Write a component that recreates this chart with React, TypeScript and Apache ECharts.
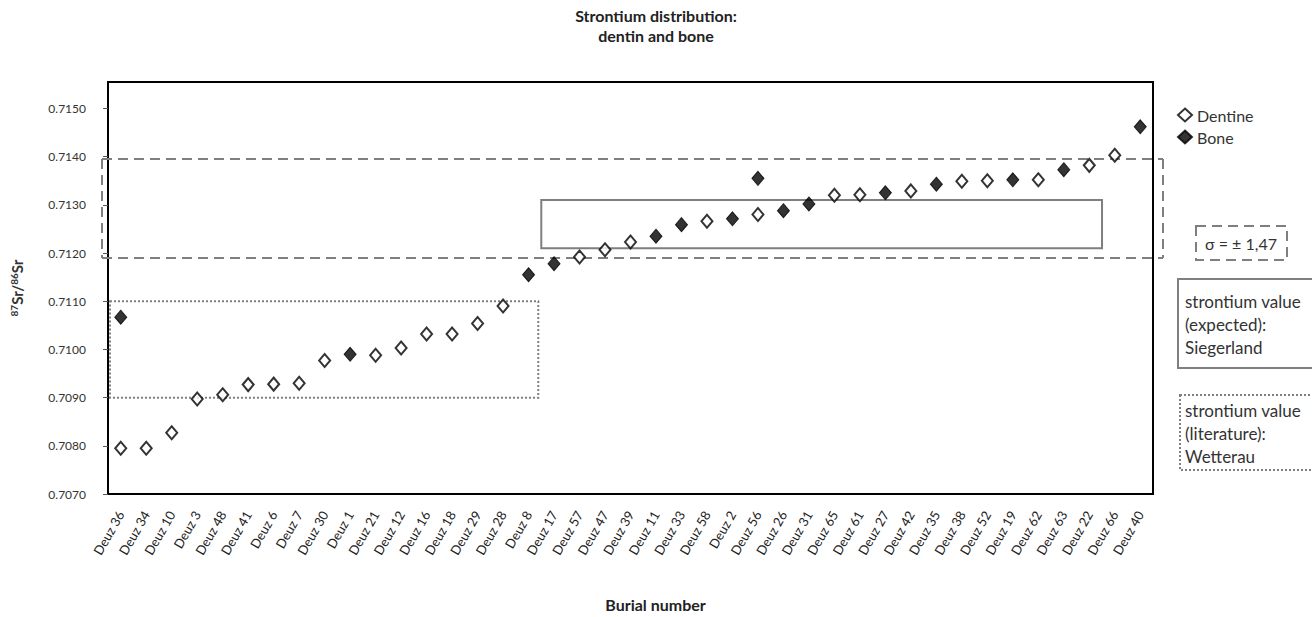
import React, { useEffect, useRef } from "react";
import * as echarts from "echarts";

const categories = [
  "Deuz 36", "Deuz 34", "Deuz 10", "Deuz 3", "Deuz 48", "Deuz 41", "Deuz 6", "Deuz 7", "Deuz 30", "Deuz 1",
  "Deuz 21", "Deuz 12", "Deuz 16", "Deuz 18", "Deuz 29", "Deuz 28", "Deuz 8", "Deuz 17", "Deuz 57", "Deuz 47",
  "Deuz 39", "Deuz 11", "Deuz 33", "Deuz 58", "Deuz 2", "Deuz 56", "Deuz 26", "Deuz 31", "Deuz 65", "Deuz 61",
  "Deuz 27", "Deuz 42", "Deuz 35", "Deuz 38", "Deuz 52", "Deuz 19", "Deuz 62", "Deuz 63", "Deuz 22", "Deuz 66",
  "Deuz 40",
];

const dentine: (number | null)[] = [
  0.70795, 0.70795, 0.70827, 0.70897, 0.70906, 0.70927, 0.70928, 0.7093, 0.70977, null,
  0.70988, 0.71003, 0.71032, 0.71032, 0.71054, 0.7109, null, null, 0.71192, 0.71207,
  0.71223, null, null, 0.71266, null, 0.7128, null, null, 0.7132, 0.71321,
  null, 0.71329, null, 0.71349, 0.7135, null, 0.71352, null, 0.71382, 0.71403,
  null,
];

const bone: (number | null)[] = [
  0.71067, null, null, null, null, null, null, null, null, 0.7099,
  null, null, null, null, null, null, 0.71155, 0.71178, null, null,
  null, 0.71235, 0.71259, null, 0.71271, 0.71355, 0.71288, 0.71302, null, null,
  0.71325, null, 0.71343, null, null, 0.71352, null, 0.71373, null, null,
  0.71462,
];

const yTicks = [0.707, 0.708, 0.709, 0.71, 0.711, 0.712, 0.713, 0.714, 0.715];
const yMin = 0.707;
const yMax = 0.71555;

// reference ranges
const sigmaRange = [0.7119, 0.71395];
const siegerlandRange = [0.7121, 0.7131];
const siegerlandCats = [17, 38]; // from Deuz 17 to Deuz 22
const wetterauRange = [0.709, 0.711];
const wetterauCats = [0, 16]; // from Deuz 36 to Deuz 8

const FONT = "Lato, 'Open Sans', sans-serif";

export default function App() {
  const ref = useRef<HTMLDivElement>(null);

  useEffect(() => {
    document.body.style.margin = "0";
    const chart = echarts.init(ref.current!, null, { renderer: "svg" });
    const option: any = {
      animation: false,
      backgroundColor: "#ffffff",
      textStyle: { fontFamily: FONT },
      title: {
        text: "Strontium distribution:\ndentin and bone",
        left: "center",
        top: 0,
        textStyle: { fontSize: 16, fontWeight: "bold", color: "#222", lineHeight: 20, fontFamily: FONT },
      },
      legend: {
        orient: "vertical",
        left: 1172,
        top: 102,
        itemGap: 6,
        itemWidth: 14,
        itemHeight: 13,
        textStyle: { fontSize: 16, color: "#333", fontFamily: FONT },
        data: ["Dentine", "Bone"],
      },
      grid: {
        left: 108,
        right: 159,
        top: 82,
        bottom: 113,
        show: true,
        borderColor: "#000",
        borderWidth: 2,
        backgroundColor: "transparent",
      },
      xAxis: {
        type: "category",
        data: categories,
        boundaryGap: true,
        name: "Burial number",
        nameLocation: "middle",
        nameGap: 102,
        nameTextStyle: { fontSize: 16, fontWeight: "bold", color: "#222", padding: [0, 0, 0, 50] },
        axisLine: { lineStyle: { color: "#000", width: 2 } },
        axisTick: { show: false },
        axisLabel: { rotate: 60, fontSize: 13, color: "#222", margin: 18, interval: 0 },
        splitLine: { show: false },
      },
      yAxis: {
        type: "value",
        min: yMin,
        max: yMax,
        interval: 0.001,
        name: "{sup|87}{b|Sr/}{sup|86}{b|Sr}",
        nameLocation: "middle",
        nameRotate: 90,
        nameGap: 84,
        nameTextStyle: {
          rich: {
            b: { fontSize: 15, fontWeight: "bold", color: "#333", fontFamily: FONT },
            sup: { fontSize: 10, fontWeight: "bold", color: "#333", verticalAlign: "top", fontFamily: FONT },
          },
        },
        axisLine: { show: true, lineStyle: { color: "#000", width: 2 } },
        axisTick: { show: true, inside: false, length: 5, lineStyle: { color: "#555" }, customValues: yTicks },
        axisLabel: {
          fontSize: 12,
          color: "#333",
          margin: 22,
          customValues: yTicks,
          formatter: (v: number) => v.toFixed(4),
        },
        splitLine: { show: false },
      },
      series: [
        {
          name: "Dentine",
          type: "scatter",
          data: dentine,
          symbol: "diamond",
          symbolSize: [11, 13],
          itemStyle: { color: "#ffffff", borderColor: "#000", borderWidth: 2 },
          z: 5,
        },
        {
          name: "Bone",
          type: "scatter",
          data: bone,
          symbol: "diamond",
          symbolSize: [12, 14],
          itemStyle: { color: "#000", borderColor: "#000", borderWidth: 1 },
          z: 5,
        },
      ],
    };
    chart.setOption(option);

    const rect = (chart as any).getModel().getComponent("grid", 0).coordinateSystem.getRect();
    const band = rect.width / categories.length;
    const py = (v: number) => chart.convertToPixel({ yAxisIndex: 0 }, v) as number;
    const gray = "#7f7f7f";

    const sTop = py(sigmaRange[1]);
    const sBot = py(sigmaRange[0]);
    const sLeft = rect.x - 6;
    const sRight = rect.x + rect.width + 10;

    const siegTop = py(siegerlandRange[1]);
    const siegBot = py(siegerlandRange[0]);
    const siegL = rect.x + band * siegerlandCats[0];
    const siegR = rect.x + band * (siegerlandCats[1] + 1);

    const wetTop = py(wetterauRange[1]);
    const wetBot = py(wetterauRange[0]);
    const wetL = rect.x + 2;
    const wetR = rect.x + band * (wetterauCats[1] + 1) - 3;

    const dashed = { stroke: gray, lineWidth: 2, lineDash: [10, 6], fill: null };
    const txt = (x: number, y: number, t: string) => ({
      type: "text",
      x,
      y,
      style: { text: t, fontSize: 17, fill: "#333", fontFamily: FONT, verticalAlign: "middle" },
      z: 10,
    });

    chart.setOption({
      graphic: [
        // sigma band (dashed rectangle)
        { type: "line", shape: { x1: sLeft, y1: sTop, x2: sRight, y2: sTop }, style: dashed, z: 3 },
        { type: "line", shape: { x1: sLeft, y1: sBot, x2: sRight, y2: sBot }, style: dashed, z: 3 },
        { type: "line", shape: { x1: sLeft, y1: sTop, x2: sLeft, y2: sBot }, style: dashed, z: 3 },
        { type: "line", shape: { x1: sRight, y1: sTop, x2: sRight, y2: sBot }, style: dashed, z: 3 },
        // Siegerland expected box
        {
          type: "rect",
          shape: { x: siegL, y: siegTop, width: siegR - siegL, height: siegBot - siegTop },
          style: { fill: null, stroke: gray, lineWidth: 2 },
          z: 3,
        },
        // Wetterau literature box
        {
          type: "rect",
          shape: { x: wetL, y: wetTop, width: wetR - wetL, height: wetBot - wetTop },
          style: { fill: null, stroke: gray, lineWidth: 2, lineDash: [2, 2] },
          z: 3,
        },
        // sigma legend box
        {
          type: "rect",
          shape: { x: 1196, y: 226, width: 91, height: 34 },
          style: { fill: null, stroke: gray, lineWidth: 2, lineDash: [10, 6] },
        },
        {
          type: "text",
          x: 1241,
          y: 243,
          style: { text: "σ = ± 1,47", fontSize: 16, fill: "#333", fontFamily: FONT, align: "center", verticalAlign: "middle" },
        },
        // Siegerland legend box
        {
          type: "rect",
          shape: { x: 1178, y: 279, width: 140, height: 89 },
          style: { fill: null, stroke: gray, lineWidth: 2 },
        },
        txt(1185, 301, "strontium value"),
        txt(1185, 324, "(expected):"),
        txt(1185, 347, "Siegerland"),
        // Wetterau legend box
        {
          type: "rect",
          shape: { x: 1180, y: 395, width: 140, height: 75 },
          style: { fill: null, stroke: gray, lineWidth: 2, lineDash: [2, 2] },
        },
        txt(1185, 410, "strontium value"),
        txt(1185, 433, "(literature):"),
        txt(1185, 456, "Wetterau"),
      ],
    });

    return () => chart.dispose();
  }, []);

  return <div ref={ref} style={{ width: 1312, height: 617 }} />;
}
